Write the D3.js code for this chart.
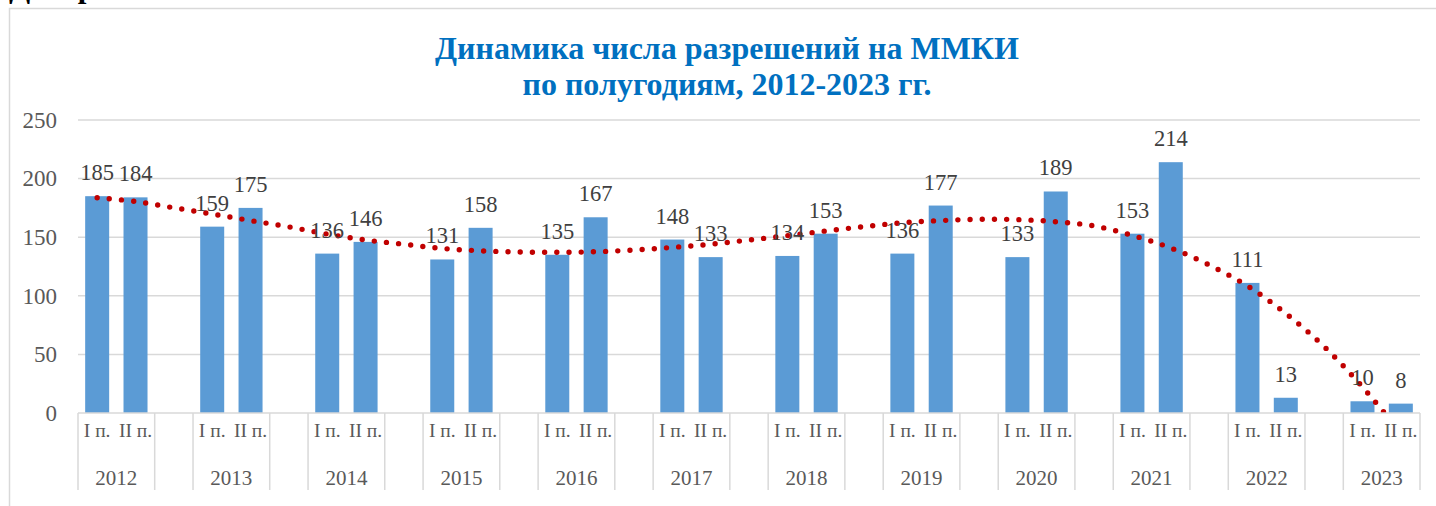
<!DOCTYPE html>
<html><head><meta charset="utf-8">
<script src="https://cdn.jsdelivr.net/npm/d3@7/dist/d3.min.js"></script>
<style>
html,body{margin:0;padding:0;background:#fff;overflow:hidden;}
svg{display:block;}
text{font-family:"Liberation Serif","Times New Roman",serif;}
</style></head><body>
<svg id="c" width="1436" height="506"></svg>
<script>
const years = [2012,2013,2014,2015,2016,2017,2018,2019,2020,2021,2022,2023];
const halves = ["I п.","II п."];
const firstHalf  = [185,159,136,131,135,148,134,136,133,153,111,10];
const secondHalf = [184,175,146,158,167,133,153,177,189,214,13,8];
// polynomial trend line values at each category slot (incl. blank slots)
const trendValues = [183.7,180.5,175.1,169.8,164.2,158.8,152.7,147.6,144.0,140.4,138.4,137.4,
  137.1,137.6,139.1,141.3,144.0,147.6,151.3,155.3,159.0,162.3,164.2,165.3,165.0,163.2,159.6,
  151.5,140.8,126.3,108.4,84.9,56.7,22.2,-17];
const yTicks = [0,50,100,150,200,250];
const titleLines = ["Динамика числа разрешений на ММКИ","по полугодиям, 2012-2023 гг."];

// build slots: each year -> I п., II п., then a blank slot (except after last)
const slots = [];
years.forEach((yr,k)=>{
  slots.push({id:slots.length, year:yr, half:halves[0], value:firstHalf[k]});
  slots.push({id:slots.length, year:yr, half:halves[1], value:secondHalf[k]});
  if(k<years.length-1) slots.push({id:slots.length, year:null, half:null, value:null});
});

const svg = d3.select("#c");
const L=78, R=1420, T=120, B=413;
const x = d3.scaleBand().domain(slots.map(d=>d.id)).range([L,R]).paddingInner(0.374).paddingOuter(0.187);
const y = d3.scaleLinear().domain([0,250]).range([B,T]);
const step = x.step();
const cx = i => x(i)+x.bandwidth()/2;

// cropped heading text above the chart
svg.append("text").attr("x",9).attr("y",-3).attr("font-size",31).attr("font-weight","bold").attr("fill","#000").text("Диаграмма");

// chart area border
svg.append("rect").attr("x",9.5).attr("y",8.5).attr("width",1500).attr("height",600)
  .attr("fill","#fff").attr("stroke","#d9d9d9").attr("stroke-width",1.5);

// title
const t = svg.append("text").attr("text-anchor","middle").attr("font-weight","bold")
  .attr("font-size",32).attr("fill","#0070C0");
titleLines.forEach((s,i)=>t.append("tspan").attr("x",727).attr("y",59+i*36).text(s));

// gridlines
svg.append("g").selectAll("line").data(yTicks.filter(v=>v>0)).join("line")
  .attr("x1",L).attr("x2",R).attr("y1",d=>y(d)).attr("y2",d=>y(d))
  .attr("stroke","#d9d9d9").attr("stroke-width",1.5);

// y axis labels
const ya = svg.append("g").attr("transform",`translate(${L},0)`)
  .call(d3.axisLeft(y).tickValues(yTicks).tickSize(0).tickPadding(21));
ya.select(".domain").remove();
ya.selectAll("text").attr("font-size",23).attr("fill","#595959");

// bars
const data = slots.filter(d=>d.value!==null);
svg.append("g").selectAll("rect").data(data).join("rect")
  .attr("x",d=>x(d.id)).attr("width",x.bandwidth())
  .attr("y",d=>y(d.value)).attr("height",d=>y(0)-y(d.value))
  .attr("fill","#5B9BD5");

// trend line (dotted), clipped to plot area
svg.append("clipPath").attr("id","pc").append("rect").attr("x",L).attr("y",T-10).attr("width",R-L).attr("height",B-T+10);
const line = d3.line().x((d,i)=>cx(i)).y(d=>y(d)).curve(d3.curveCatmullRom);
svg.append("path").attr("clip-path","url(#pc)").datum(trendValues).attr("d",line)
  .attr("fill","none").attr("stroke","#C00000").attr("stroke-width",5.4)
  .attr("stroke-linecap","round").attr("stroke-dasharray","0 12.2");

// data labels
svg.append("g").selectAll("text").data(data).join("text")
  .attr("x",d=>cx(d.id)).attr("y",d=>y(d.value)-16).attr("text-anchor","middle")
  .attr("font-size",22.5).attr("fill","#404040").text(d=>d.value);

// category axis
svg.append("line").attr("x1",L).attr("x2",R).attr("y1",B).attr("y2",B).attr("stroke","#d9d9d9").attr("stroke-width",1.5);
const bounds = [];
slots.forEach((d,i)=>{ if(d.half!==halves[1]) bounds.push(i); });
bounds.push(slots.length);
svg.append("g").selectAll("line").data(bounds).join("line")
  .attr("x1",i=>L+i*step).attr("x2",i=>L+i*step).attr("y1",B).attr("y2",490)
  .attr("stroke","#d9d9d9").attr("stroke-width",1.5);
svg.append("g").selectAll("text").data(slots.filter(d=>d.half)).join("text")
  .attr("x",d=>cx(d.id)).attr("y",437).attr("text-anchor","middle")
  .attr("font-size",19.5).attr("fill","#595959").text(d=>d.half);
svg.append("g").selectAll("text").data(slots.filter(d=>d.half===halves[0])).join("text")
  .attr("x",d=>L+d.id*step+step).attr("y",485).attr("text-anchor","middle")
  .attr("font-size",21).attr("fill","#595959").text(d=>d.year);
</script></body></html>
